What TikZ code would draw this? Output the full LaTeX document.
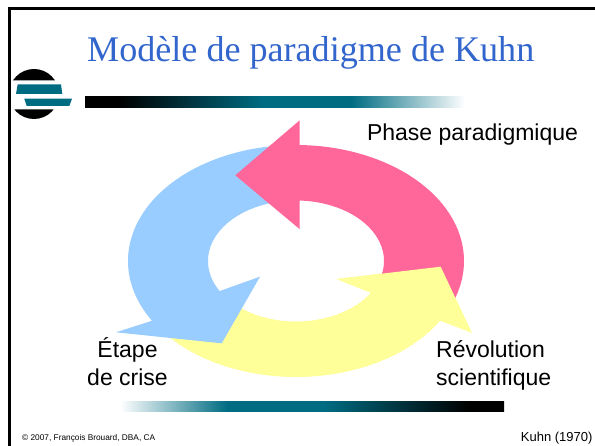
\documentclass[tikz,border=0pt]{standalone}
\usepackage{fontspec}
\setmainfont{Liberation Sans}
\newfontfamily\titlefont{Liberation Serif}
\definecolor{pinkarrow}{HTML}{FF6699}
\definecolor{bluearrow}{HTML}{99CCFF}
\definecolor{yellowarrow}{HTML}{FFFF99}
\definecolor{titleblue}{HTML}{3366CC}
\definecolor{barteal}{HTML}{006C82}
\pgfdeclarehorizontalshading{topbar}{100bp}{color(0bp)=(black); color(29.5bp)=(black); color(48.5bp)=(barteal); color(60bp)=(barteal); color(75bp)=(white); color(100bp)=(white)}
\pgfdeclarehorizontalshading{bottombar}{100bp}{color(0bp)=(white); color(25bp)=(white); color(39bp)=(barteal); color(51.5bp)=(barteal); color(70.5bp)=(black); color(100bp)=(black)}
\tikzset{
  lbl/.style={inner sep=0pt,anchor=base,text=black,font=\fontsize{23}{27}\selectfont,align=center},
  barfill/.style={draw=none},
}
\begin{document}
\begin{tikzpicture}[x=1pt,y=-1pt]
\useasboundingbox (0,0) rectangle (595,446);
\fill[white] (0,0) rectangle (595,446);
% frame
\fill[black] (8,7.3) rectangle (595,10);
\fill[black] (8,7.3) rectangle (11,446);
% title
\node[inner sep=0pt,anchor=base west,text=titleblue,font=\titlefont\fontsize{36.1}{42}\selectfont] (title) at (87,62) {Modèle de paradigme de Kuhn};
% logo
\begin{scope}
\clip (0,69) rectangle (80,80.3) (0,109.5) rectangle (80,120);
\fill[black] (34,94) circle[radius=25];
\end{scope}
\fill[barteal] (17.7,84.3) -- (61,84.3) -- (62.3,94) -- (16,94) -- cycle;
\fill[barteal] (24.3,98.7) -- (72,98.7) -- (69.3,106) -- (26.7,106) -- cycle;
% bars
\shade[barfill,shading=topbar] (85,97) rectangle (465,108);
\shade[barfill,shading=bottombar] (120,402) rectangle (504,412);
% ring arrows
\fill[yellowarrow] plot[domain=-31:-145,samples=80] ({296+168*cos(\x)},{261-116*sin(\x)})
  -- plot[domain=-145:-31.7,samples=80] ({296+88*cos(\x)},{261-60.5*sin(\x)}) -- (336.7,279) -- (440.7,266.7) -- (471.7,332.7) -- cycle;
\fill[bluearrow] plot[domain=211:95,samples=80] ({296+168*cos(\x)},{261-116*sin(\x)})
  -- plot[domain=100:209.8,samples=80] ({296+88*cos(\x)},{261-60.5*sin(\x)}) -- (260,276.7) -- (221.7,343.3) -- (116,332.3) -- cycle;
\fill[pinkarrow] plot[domain=88.8:-22,samples=80] ({296+168*cos(\x)},{261-116*sin(\x)})
  -- plot[domain=-15:87.7,samples=80] ({296+88*cos(\x)},{261-60.5*sin(\x)}) -- (299.5,229) -- (235.3,175.3) -- (299.5,120.5) -- cycle;
\fill[yellowarrow] (440.7,266.7) -- (471.7,332.7) -- (336.7,279) -- cycle;
% labels
\node[lbl] (phase) at (472.5,141) {Phase paradigmique};
\node[lbl] (etape) at (127.5,358) {Étape};
\node[lbl] (crise) at (127.5,385.7) {de crise};
\node[lbl] (revol) at (490.5,358) {Révolution};
\node[lbl] (scient) at (493.7,385.5) {scientifique};
\node[inner sep=0pt,anchor=base west,text=black,font=\fontsize{8.3}{10}\selectfont] (copy) at (22,441) {© 2007, François Brouard, DBA, CA};
\node[inner sep=0pt,anchor=base east,text=black,font=\fontsize{13}{15}\selectfont] (kuhn) at (592.7,441.5) {Kuhn (1970)};
\end{tikzpicture}
\end{document}
